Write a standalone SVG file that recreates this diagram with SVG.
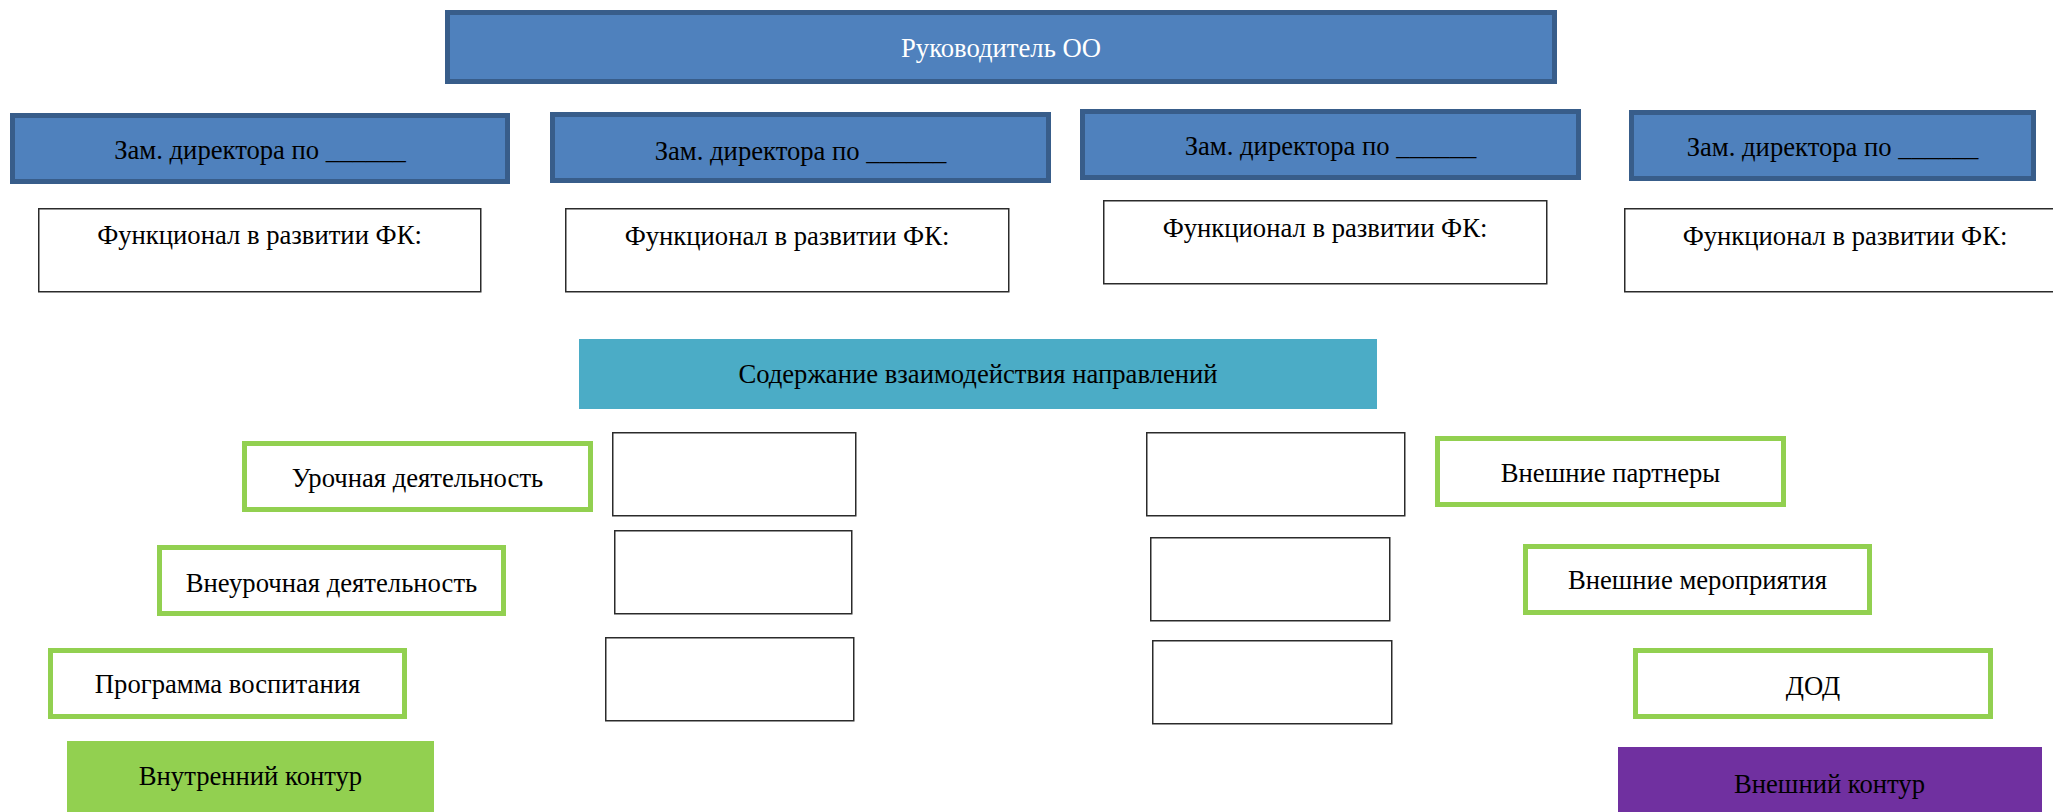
<svg xmlns="http://www.w3.org/2000/svg" width="2053" height="812" viewBox="0 0 2053 812">
<style>
.boss{fill:#4F81BD;stroke:#385D8A;stroke-width:5}
.fn{fill:#FFFFFF;stroke:#2b2b2b;stroke-width:1.5}
.gr{fill:#FFFFFF;stroke:#92D050;stroke-width:5}
.t{font-family:"Liberation Serif","Times New Roman",serif;font-size:26.67px;fill:#000;text-anchor:middle}
.w{fill:#FFFFFF}
</style>
<rect width="2053" height="812" fill="#FFFFFF"/>
<g id="head">
<rect class="boss" x="447.5" y="12.5" width="1107" height="69"/>
<text class="t w" x="1001" y="57">Руководитель ОО</text>
</g>
<g id="zam1">
<rect class="boss" x="12.5" y="115.5" width="495" height="66"/>
<text class="t" x="260" y="159">Зам. директора по ______</text>
</g>
<g id="zam2">
<rect class="boss" x="552.5" y="114.5" width="496" height="66"/>
<text class="t" x="800.5" y="160">Зам. директора по ______</text>
</g>
<g id="zam3">
<rect class="boss" x="1082.5" y="111.5" width="496" height="66"/>
<text class="t" x="1330.5" y="155">Зам. директора по ______</text>
</g>
<g id="zam4">
<rect class="boss" x="1631.5" y="112.5" width="402" height="66"/>
<text class="t" x="1832.5" y="156">Зам. директора по ______</text>
</g>
<g id="func1">
<rect class="fn" x="38.75" y="208.75" width="442" height="83"/>
<text class="t" x="259.5" y="244">Функционал в развитии ФК:</text>
</g>
<g id="func2">
<rect class="fn" x="565.75" y="208.75" width="443" height="83"/>
<text class="t" x="787" y="245">Функционал в развитии ФК:</text>
</g>
<g id="func3">
<rect class="fn" x="1103.75" y="200.75" width="443" height="83"/>
<text class="t" x="1325" y="237">Функционал в развитии ФК:</text>
</g>
<g id="func4">
<rect class="fn" x="1624.75" y="208.75" width="442" height="83"/>
<text class="t" x="1845" y="245">Функционал в развитии ФК:</text>
</g>
<g id="content">
<rect x="579" y="339" width="798" height="70" fill="#4BACC6"/>
<text class="t" x="978" y="383">Содержание взаимодействия направлений</text>
</g>
<g id="urochnaya">
<rect class="gr" x="244.5" y="443.5" width="346" height="66"/>
<text class="t" x="417.5" y="487">Урочная деятельность</text>
</g>
<g id="vneurochnaya">
<rect class="gr" x="159.5" y="547.5" width="344" height="66"/>
<text class="t" x="331.5" y="592">Внеурочная деятельность</text>
</g>
<g id="programma">
<rect class="gr" x="50.5" y="650.5" width="354" height="66"/>
<text class="t" x="227.5" y="693">Программа воспитания</text>
</g>
<g id="partnery">
<rect class="gr" x="1437.5" y="438.5" width="346" height="66"/>
<text class="t" x="1610.5" y="482">Внешние партнеры</text>
</g>
<g id="meropriyatiya">
<rect class="gr" x="1525.5" y="546.5" width="344" height="66"/>
<text class="t" x="1697.5" y="589">Внешние мероприятия</text>
</g>
<g id="dod">
<rect class="gr" x="1635.5" y="650.5" width="355" height="66"/>
<text class="t" x="1813" y="695">ДОД</text>
</g>
<g id="inner">
<rect x="67" y="741" width="367" height="75" fill="#92D050"/>
<text class="t" x="250.5" y="785">Внутренний контур</text>
</g>
<g id="outer">
<rect x="1618" y="747" width="424" height="70" fill="#7030A0"/>
<text class="t" x="1829.5" y="793">Внешний контур</text>
</g>
<g id="emptyL1"><rect class="fn" x="612.75" y="432.75" width="243" height="83"/></g>
<g id="emptyL2"><rect class="fn" x="614.75" y="530.75" width="237" height="83"/></g>
<g id="emptyL3"><rect class="fn" x="605.75" y="637.75" width="248" height="83"/></g>
<g id="emptyR1"><rect class="fn" x="1146.75" y="432.75" width="258" height="83"/></g>
<g id="emptyR2"><rect class="fn" x="1150.75" y="537.75" width="239" height="83"/></g>
<g id="emptyR3"><rect class="fn" x="1152.75" y="640.75" width="239" height="83"/></g>
<g id="connectors"></g>
</svg>
